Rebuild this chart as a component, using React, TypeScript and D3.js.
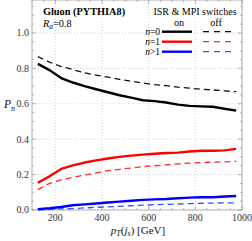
import * as d3 from 'd3';

const W = 252;
const H = 241;

const pT = [125, 175, 225, 275, 325, 375, 425, 475, 525, 575, 625, 675, 725, 775, 825, 875, 925, 975];
const n0On = [0.825, 0.79, 0.745, 0.72, 0.70, 0.682, 0.665, 0.648, 0.635, 0.62, 0.615, 0.607, 0.595, 0.588, 0.585, 0.583, 0.572, 0.561];
const n0Off = [0.866, 0.835, 0.81, 0.793, 0.775, 0.762, 0.75, 0.738, 0.727, 0.717, 0.708, 0.702, 0.694, 0.688, 0.682, 0.678, 0.673, 0.668];
const n1On = [0.154, 0.19, 0.232, 0.252, 0.268, 0.28, 0.291, 0.30, 0.307, 0.313, 0.318, 0.322, 0.324, 0.33, 0.335, 0.335, 0.337, 0.345];
const n1Off = [0.115, 0.15, 0.17, 0.185, 0.197, 0.21, 0.222, 0.23, 0.237, 0.245, 0.25, 0.255, 0.26, 0.265, 0.268, 0.27, 0.272, 0.275];
const n2On = [0.005, 0.01, 0.017, 0.027, 0.032, 0.037, 0.042, 0.047, 0.052, 0.057, 0.06, 0.062, 0.066, 0.07, 0.072, 0.072, 0.076, 0.079];
const n2Off = [0.0, 0.003, 0.006, 0.008, 0.012, 0.015, 0.018, 0.021, 0.024, 0.027, 0.03, 0.032, 0.034, 0.036, 0.038, 0.039, 0.04, 0.041];

const xTicks = [200, 400, 600, 800, 1000];
const yTicks = [0.0, 0.2, 0.4, 0.6, 0.8, 1.0];

const series = [
  { label: '0', op: '=', color: '#000000', dash: '#111111', on: n0On, off: n0Off },
  { label: '1', op: '=', color: '#ff0000', dash: '#ff2a2a', on: n1On, off: n1Off },
  { label: '1', op: '>', color: '#0000ff', dash: '#3355ff', on: n2On, off: n2Off },
];

const FONT = '"Liberation Serif", "DejaVu Serif", serif';

export default function App() {
  const left = 32, right = 242, top = 0, bottom = 210;
  const x = d3.scaleLinear().domain([100, 1000]).range([left, right]);
  const y = d3.scaleLinear().domain([0, 1.186]).range([bottom, top]);

  const line = (vals: number[]) =>
    d3.line<number>()
      .x((_, i) => x(pT[i]))
      .y(d => y(d))
      .curve(d3.curveLinear)(vals) || '';

  const xMinor = d3.range(100, 1001, 50);
  const yMinor = d3.range(0, 1.19, 0.05);

  return (
    <svg width={W} height={H} style={{ position: 'absolute', left: 0, top: 0 }} fontFamily={FONT}>
      <rect width={W} height={H} fill="#fff" />
      {/* grid */}
      {xTicks.map(t => (
        <line key={'gx' + t} x1={x(t)} x2={x(t)} y1={top} y2={bottom} stroke="#c8c8c8" strokeWidth={0.8} strokeDasharray="1,2" />
      ))}
      {yTicks.slice(1).map(t => (
        <line key={'gy' + t} x1={left} x2={right} y1={y(t)} y2={y(t)} stroke="#c8c8c8" strokeWidth={0.8} strokeDasharray="1,2" />
      ))}
      {/* ticks */}
      {xMinor.map(t => {
        const major = t % 200 === 0;
        const len = major ? 4 : 2;
        return (
          <g key={'tx' + t} stroke="#999" strokeWidth={0.7}>
            <line x1={x(t)} x2={x(t)} y1={bottom} y2={bottom - len} />
            <line x1={x(t)} x2={x(t)} y1={top} y2={top + len} />
          </g>
        );
      })}
      {yMinor.map(t => {
        const major = Math.abs(t * 5 - Math.round(t * 5)) < 1e-6;
        const len = major ? 4 : 2;
        return (
          <g key={'ty' + t.toFixed(2)} stroke="#999" strokeWidth={0.7}>
            <line x1={left} x2={left + len} y1={y(t)} y2={y(t)} />
            <line x1={right} x2={right - len} y1={y(t)} y2={y(t)} />
          </g>
        );
      })}
      <rect x={left} y={top} width={right - left} height={bottom - top} fill="none" stroke="#999" strokeWidth={0.8} />
      {/* tick labels */}
      {xTicks.map(t => (
        <text key={'lx' + t} x={x(t)} y={221} textAnchor="middle" fontSize={10} fill="#333">{t}</text>
      ))}
      {yTicks.map(t => (
        <text key={'ly' + t} x={29} y={y(t) + 3.4} textAnchor="end" fontSize={10} fill="#333">{t.toFixed(1)}</text>
      ))}
      {/* axis labels */}
      <text x={4} y={108} fontSize={11.5} fontStyle="italic" fill="#111">P<tspan fontSize={8} dy={2.5}>n</tspan></text>
      <text x={138} y={234} textAnchor="middle" fontSize={11} fill="#111">
        <tspan fontStyle="italic">p</tspan><tspan fontSize={8} dy={2} fontStyle="italic">T</tspan><tspan dy={-2}>(</tspan><tspan fontStyle="italic">j</tspan><tspan fontSize={8} dy={2} fontStyle="italic">s</tspan><tspan dy={-2}>) [GeV]</tspan>
      </text>
      {/* curves */}
      {series.map((s, i) => (
        <g key={'s' + i} fill="none">
          <path d={line(s.off)} stroke={s.dash} strokeWidth={1.3} strokeDasharray="6,4" />
          <path d={line(s.on)} stroke={s.color} strokeWidth={2.4} strokeLinejoin="round" />
        </g>
      ))}
      {/* annotations */}
      <text x={43} y={15} fontSize={10.3} fontWeight="bold" fill="#000">Gluon (PYTHIA8)</text>
      <text x={43} y={27} fontSize={10.3} fill="#000"><tspan fontStyle="italic">R</tspan><tspan fontStyle="italic" fontSize={7.5} dy={2}>a</tspan><tspan dy={-2}>=0.8</tspan></text>
      {/* legend */}
      <text x={195} y={15} textAnchor="middle" fontSize={10} fill="#000">ISR &amp; MPI switches</text>
      <text x={179} y={26} textAnchor="middle" fontSize={10} fill="#000">on</text>
      <text x={216} y={26} textAnchor="middle" fontSize={10} fill="#000">off</text>
      {series.map((s, i) => {
        const ly = 31.7 + i * 10;
        return (
          <g key={'lg' + i}>
            <text x={160} y={ly + 3.3} textAnchor="end" fontSize={9.5} fill="#000">
              <tspan fontStyle="italic">n</tspan>{s.op}{s.label}
            </text>
            <line x1={162} x2={192} y1={ly} y2={ly} stroke={s.color} strokeWidth={2.4} />
            <line x1={203} x2={231} y1={ly} y2={ly} stroke={s.dash} strokeWidth={1.3} strokeDasharray="6,5" />
          </g>
        );
      })}
    </svg>
  );
}
